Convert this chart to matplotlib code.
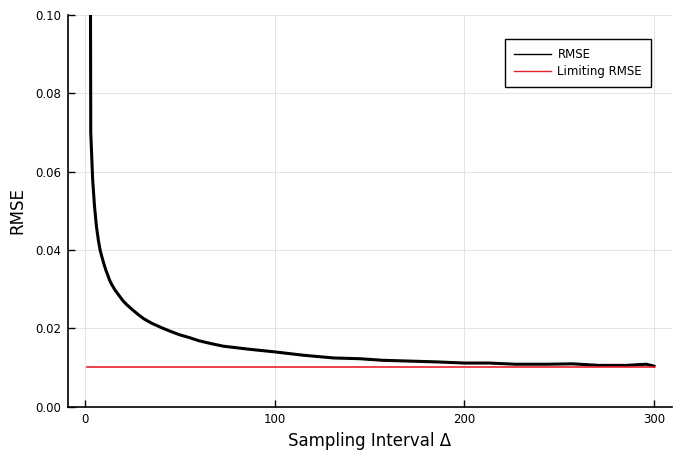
import matplotlib
matplotlib.use("Agg")
import matplotlib.pyplot as plt

# values
delta = [2, 3, 4, 5, 6, 7, 8, 9, 10, 11, 12, 13, 14, 16, 18, 20, 22, 25, 28,
         31, 35, 40, 45, 50, 55, 60, 67, 73, 80, 87, 100, 115, 131, 145, 157,
         171, 185, 200, 213, 227, 243, 257, 271, 285, 296, 300]
rmse = [0.30, 0.070, 0.058, 0.051, 0.046, 0.0425, 0.0398, 0.0380, 0.0363,
        0.0348, 0.0335, 0.0322, 0.0312, 0.0296, 0.0283, 0.0270, 0.0260,
        0.0247, 0.0235, 0.0224, 0.0213, 0.0202, 0.0192, 0.0183, 0.0176,
        0.0168, 0.0160, 0.0154, 0.0150, 0.0146, 0.01395, 0.0131, 0.0124,
        0.0122, 0.0118, 0.0116, 0.0114, 0.0111, 0.0111, 0.0108, 0.0108,
        0.0109, 0.0105, 0.0105, 0.0108, 0.0103]
limit_delta = [1, 300]
limiting_rmse = [0.01, 0.01]

xticks = [0, 100, 200, 300]
yticks = [0.00, 0.02, 0.04, 0.06, 0.08, 0.10]


def main():
    fig = plt.figure(figsize=(6.85, 4.58), dpi=100)
    ax = fig.add_axes([68 / 685, 51.5 / 458, 604 / 685, 391.5 / 458])

    ax.plot(delta, rmse, color="black", lw=2.2, label="RMSE", solid_joinstyle="round")
    ax.plot(limit_delta, limiting_rmse, color="#e8202c", lw=1.2, label="Limiting RMSE")

    ax.set_xlim(-9, 309.5)
    ax.set_ylim(0, 0.1)
    ax.set_xticks(xticks)
    ax.set_yticks(yticks)
    ax.set_yticklabels([f"{v:.2f}" for v in yticks])

    ax.grid(True, color="#e4e4e4", lw=0.7)
    ax.set_axisbelow(True)
    for side in ["top", "right"]:
        ax.spines[side].set_visible(False)
    for side in ["left", "bottom"]:
        ax.spines[side].set_linewidth(1.2)
    ax.tick_params(direction="in", length=5, width=1, labelsize=8.5, pad=5)

    ax.set_xlabel("Sampling Interval Δ", fontsize=12, labelpad=4)
    ax.set_ylabel("RMSE", fontsize=12, labelpad=6)

    leg = ax.legend(loc="upper right", bbox_to_anchor=(0.965, 0.938),
                    borderaxespad=0, fontsize=8.5, fancybox=False,
                    framealpha=1, edgecolor="black", handlelength=3.2,
                    handletextpad=0.5, borderpad=0.75, labelspacing=0.3)
    leg.get_frame().set_linewidth(1.0)
    for line in leg.get_lines():
        line.set_linewidth(1.0)

    fig.savefig("out.png", dpi=100)


if __name__ == "__main__":
    main()
